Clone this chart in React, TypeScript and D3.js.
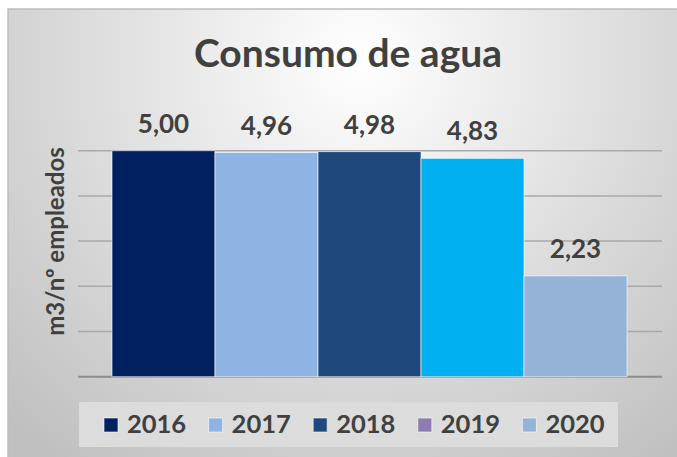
import { useEffect, useRef } from 'react';
import * as d3 from 'd3';

const years = ['2016', '2017', '2018', '2019', '2020'];
const values = [5.0, 4.96, 4.98, 4.83, 2.23];
const barColors = ['#002060', '#8DB4E2', '#1F497D', '#00B0F0', '#95B3D7'];
const legendColors = ['#002060', '#8DB4E2', '#1F497D', '#8E7CB3', '#95B3D7'];
const yTicks = [0, 1, 2, 3, 4, 5];

export default function App() {
  const svgRef = useRef<SVGSVGElement>(null);

  useEffect(() => {
    if (!svgRef.current) return;
    const width = 677;
    const height = 457;
    const font = 'Lato, "Open Sans", sans-serif';

    d3.select(svgRef.current).selectAll('*').remove();
    const svg = d3.select(svgRef.current).attr('width', width).attr('height', height);

    // background gradient
    const defs = svg.append('defs');
    const grad = defs
      .append('radialGradient')
      .attr('id', 'bg')
      .attr('gradientUnits', 'userSpaceOnUse')
      .attr('cx', 360)
      .attr('cy', 60)
      .attr('r', 500);
    grad.append('stop').attr('offset', '0%').attr('stop-color', '#ffffff');
    grad.append('stop').attr('offset', '100%').attr('stop-color', '#c0c0c0');

    svg.append('rect').attr('width', width).attr('height', height).attr('fill', '#fff');
    svg
      .append('rect')
      .attr('x', 8)
      .attr('y', 9)
      .attr('width', width)
      .attr('height', height)
      .attr('fill', 'url(#bg)')
      .attr('stroke', '#bdbdbd')
      .attr('stroke-width', 1.5);

    const x = d3.scaleBand().domain(years).range([112, 627]).padding(0);
    const y = d3.scaleLinear().domain([0, 5]).range([376.7, 150.7]);

    // gridlines
    svg
      .append('g')
      .selectAll('line')
      .data(yTicks)
      .enter()
      .append('line')
      .attr('x1', 78)
      .attr('x2', 662)
      .attr('y1', (d) => y(d))
      .attr('y2', (d) => y(d))
      .attr('stroke', (d) => (d === 0 ? '#8c8c8c' : '#a9a9a9'))
      .attr('stroke-width', (d) => (d === 0 ? 2 : 1.5));

    // bars
    svg
      .append('g')
      .selectAll('rect')
      .data(values)
      .enter()
      .append('rect')
      .attr('x', (_, i) => x(years[i])!)
      .attr('y', (d) => y(d))
      .attr('width', x.bandwidth())
      .attr('height', (d) => y(0) - y(d))
      .attr('fill', (_, i) => barColors[i])
      .attr('stroke', 'rgba(255,255,255,0.6)')
      .attr('stroke-width', 1);

    // data labels
    svg
      .append('g')
      .selectAll('text')
      .data(values)
      .enter()
      .append('text')
      .attr('x', (_, i) => x(years[i])! + x.bandwidth() / 2)
      .attr('y', (d) => y(d) - 18)
      .attr('text-anchor', 'middle')
      .attr('font-family', font)
      .attr('font-weight', 'bold')
      .attr('font-size', 26)
      .attr('fill', '#404040')
      .text((d) => d.toFixed(2).replace('.', ','));

    // title
    svg
      .append('text')
      .attr('x', 348)
      .attr('y', 66.5)
      .attr('text-anchor', 'middle')
      .attr('font-family', font)
      .attr('font-weight', 'bold')
      .attr('font-size', 39)
      .attr('fill', '#404040')
      .text('Consumo de agua');

    // y axis label
    svg
      .append('text')
      .attr('transform', 'translate(64, 241.5) rotate(-90)')
      .attr('text-anchor', 'middle')
      .attr('font-family', font)
      .attr('font-weight', 'bold')
      .attr('font-size', 24)
      .attr('fill', '#404040')
      .text('m3/nº empleados');

    // legend
    svg
      .append('rect')
      .attr('x', 79)
      .attr('y', 402)
      .attr('width', 539)
      .attr('height', 45)
      .attr('fill', '#dcdcdc');

    const legend = svg
      .append('g')
      .selectAll('g')
      .data(years)
      .enter()
      .append('g')
      .attr('transform', (_, i) => `translate(${104 + i * 104.6}, 0)`);

    legend
      .append('rect')
      .attr('x', 0)
      .attr('y', 418)
      .attr('width', 14)
      .attr('height', 14)
      .attr('fill', (_, i) => legendColors[i])
      .attr('stroke', 'rgba(255,255,255,0.6)')
      .attr('stroke-width', 1);

    legend
      .append('text')
      .attr('x', 23)
      .attr('y', 432.7)
      .attr('font-family', font)
      .attr('font-weight', 'bold')
      .attr('font-size', 25.5)
      .attr('fill', '#404040')
      .text((d) => d);
  }, []);

  return (
    <svg
      ref={svgRef}
      style={{ position: 'absolute', left: 0, top: 0, display: 'block' }}
    />
  );
}
